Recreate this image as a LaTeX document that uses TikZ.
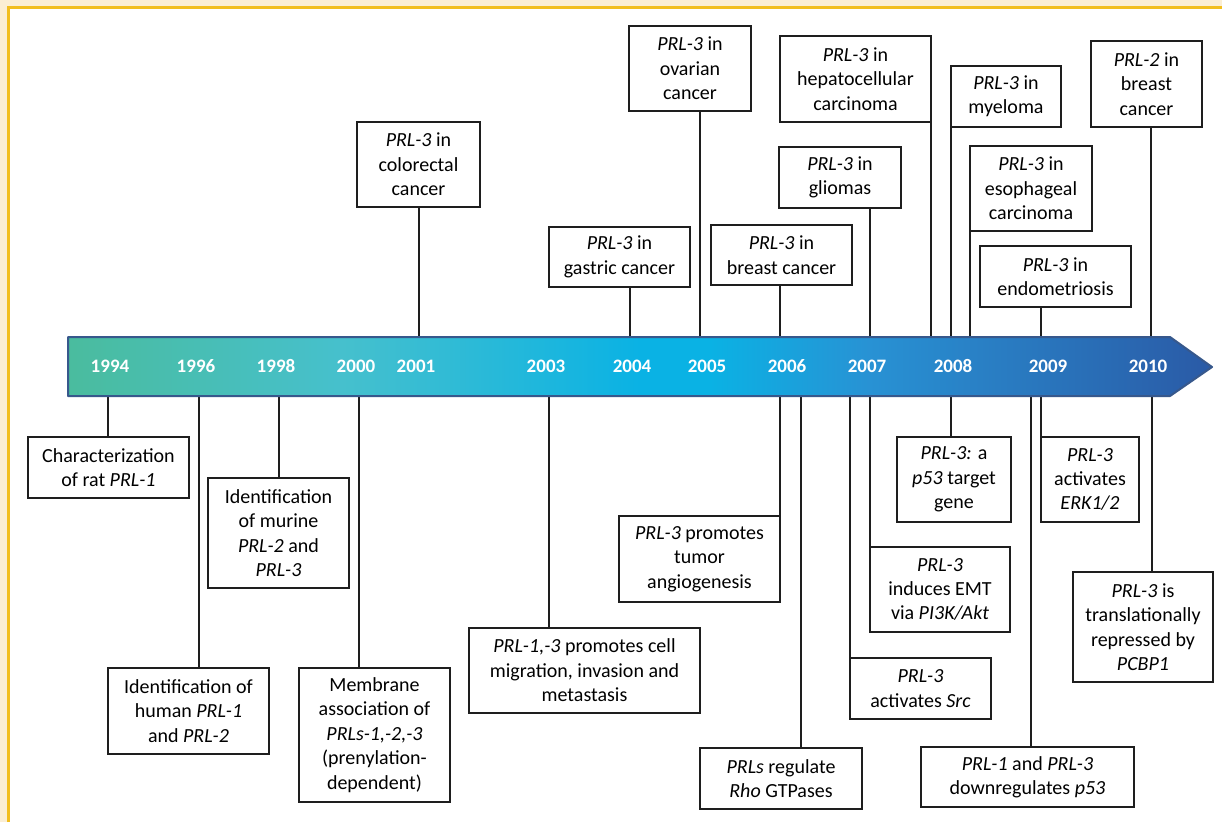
\documentclass[tikz,border=0pt]{standalone}
\usepackage{fontspec}
\setmainfont{Carlito}
\usepackage{tikz}
\usetikzlibrary{positioning}

\definecolor{framecream}{RGB}{251,238,211}
\definecolor{frameyellow}{RGB}{242,190,30}
\definecolor{bandgreen}{RGB}{74,188,158}
\definecolor{bandteal}{RGB}{70,192,205}
\definecolor{bandcyan}{RGB}{10,178,228}
\definecolor{bandmid}{RGB}{40,146,212}
\definecolor{bandblue}{RGB}{42,90,166}
\definecolor{bandedge}{RGB}{55,88,140}
\definecolor{boxline}{RGB}{30,30,30}
\pgfdeclarehorizontalshading{timeband}{100bp}{color(0bp)=(bandgreen); color(25bp)=(bandgreen);
  color(37bp)=(bandteal); color(50bp)=(bandcyan); color(53bp)=(bandcyan); color(60bp)=(bandmid);
  color(75bp)=(bandblue); color(100bp)=(bandblue)}

\begin{document}
\begin{tikzpicture}[x=1pt, y=-1pt,
  txt/.style={font=\fontsize{20}{24.4}\selectfont},
  box/.style={draw=boxline, line width=1.6pt, fill=white, align=center, inner sep=2pt, txt},
  evt/.style 2 args={box, minimum width=#1pt, minimum height=#2pt},
  link/.style={draw=boxline, line width=1.6pt},
  year/.style={anchor=base, text=white, font=\fontsize{19}{22}\selectfont\bfseries}]
\useasboundingbox (0,0) rectangle (1222,822);

% frame
\fill[framecream] (0,0) rectangle (1222,822);
\fill[white] (8.3,7.5) rectangle (1222,822);
\draw[frameyellow, line width=3.2pt] (8.3,822) -- (8.3,7.5) -- (1222,7.5);

% events above the timeline
\node[evt={123}{85}] (colo) at (418.5,164.5) {\textit{PRL-3} in\\colorectal\\cancer};
\node[evt={141}{60}] (gast) at (619.5,257) {\textit{PRL-3} in\\gastric cancer};
\node[evt={122}{85}] (ovar) at (690,68.5) {\textit{PRL-3} in\\ovarian\\cancer};
\node[evt={141}{60}] (brst6) at (781.5,255) {\textit{PRL-3} in\\breast cancer};
\node[evt={151}{86}] (hepa) at (855.5,79) {\textit{PRL-3} in\\hepatocellular\\carcinoma};
\node[evt={122}{61}] (glio) at (840,177.5) {\textit{PRL-3} in\\gliomas};
\node[evt={110}{61}] (myel) at (1006,96.5) {\textit{PRL-3} in\\myeloma};
\node[evt={122}{85}] (esop) at (1031,188.5) {\textit{PRL-3} in\\esophageal\\carcinoma};
\node[evt={151}{61}] (endo) at (1055.5,276.5) {\textit{PRL-3} in\\endometriosis};
\node[evt={111}{86}] (brst2) at (1146.5,84) {\textit{PRL-2} in\\breast\\cancer};

% events below the timeline
\node[evt={161}{61}] (rat) at (108.5,467.5) {Characterization\\of rat \textit{PRL-1}};
\node[evt={141}{110}] (murine) at (278.5,533) {Identification\\of murine\\\textit{PRL-2} and\\\textit{PRL-3}};
\node[evt={161}{86}] (human) at (188.5,711) {Identification of\\human \textit{PRL-1}\\and \textit{PRL-2}};
\node[evt={151}{134}] (memb) at (374.5,735) {Membrane\\association of\\\textit{PRLs-1,-2,-3}\\(prenylation-\\dependent)};
\node[evt={231}{85}] (migr) at (584.5,670.5) {\textit{PRL-1,-3} promotes cell\\migration, invasion and\\metastasis};
\node[evt={161}{86}] (angio) at (699.5,559) {\textit{PRL-3} promotes\\tumor\\angiogenesis};
\node[evt={162}{61}] (rho) at (781,778.5) {\textit{PRLs} regulate\\\textit{Rho} GTPases};
\node[evt={141}{61}] (src) at (920.5,688.5) {\textit{PRL-3}\\activates \textit{Src}};
\node[evt={140}{85}] (emt) at (940,589.5) {\textit{PRL-3}\\induces EMT\\via \textit{PI3K/Akt}};
\node[evt={114}{85}] (p53g) at (954,479.5) {\textit{PRL-3:} a\\\textit{p53} target\\gene};
\node[evt={213}{60}] (down) at (1027.5,777) {\textit{PRL-1} and \textit{PRL-3}\\downregulates \textit{p53}};
\node[evt={98}{85}] (erk) at (1090,479.5) {\textit{PRL-3}\\activates\\\textit{ERK1/2}};
\node[evt={140}{110}] (pcbp) at (1143,627) {\textit{PRL-3} is\\translationally\\repressed by\\\textit{PCBP1}};

% lines up to the boxes
\foreach \n/\x in {colo/419,gast/630,ovar/700,brst6/780,hepa/931,glio/870,myel/951,esop/970,endo/1041,brst2/1151}
{\coordinate (\n-on) at (\x,337);
 \draw[link] (\n-on) -- (\n-on |- \n.south);}

% lines down to the boxes
\foreach \n/\x in {rat/108,murine/279,human/199,memb/359,migr/549,angio/780,rho/801,src/850,emt/870,p53g/951,down/1031,erk/1041,pcbp/1152}
{\coordinate (\n-on) at (\x,396);
 \draw[link] (\n-on) -- (\n-on |- \n.north);}

% timeline arrow
\draw[bandedge, line width=2pt, shading=timeband, line join=round]
  (68,337) -- (1170,337) -- (1212,367) -- (1170,396) -- (68,396) -- cycle;

% years
\foreach \x/\yr in {110/1994,196/1996,276/1998,356/2000,416/2001,546/2003,632/2004,707/2005,787/2006,867/2007,953/2008,1048/2009,1148/2010}
\node[year] (y\yr) at (\x,372) {\yr};
\end{tikzpicture}
\end{document}
